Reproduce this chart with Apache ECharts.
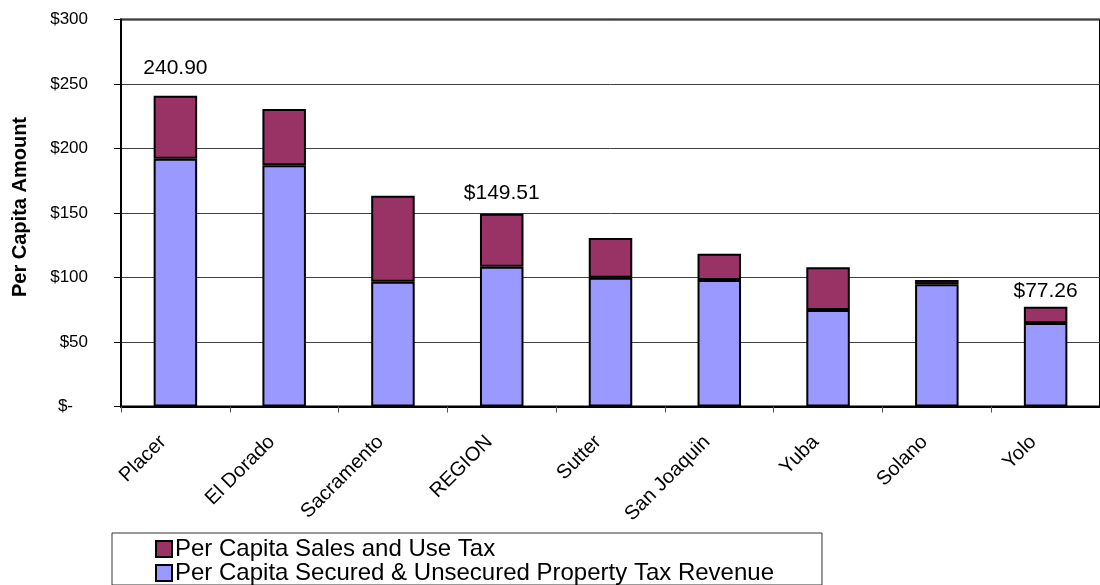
<!DOCTYPE html>
<html>
<head>
<meta charset="utf-8">
<script src="https://cdn.jsdelivr.net/npm/echarts@6/dist/echarts.min.js"></script>
<style>html,body{margin:0;padding:0;background:#fff;}#c{width:1100px;height:585px;}</style>
</head>
<body>
<div id="c"></div>
<script>
const categories = ['Placer', 'El Dorado', 'Sacramento', 'REGION', 'Sutter', 'San Joaquin', 'Yuba', 'Solano', 'Yolo'];
const propertyTax = [192.0, 187.0, 96.7, 108.4, 99.9, 98.1, 74.8, 94.7, 64.7];
const salesTax = [48.9, 43.6, 66.7, 41.11, 30.7, 20.4, 33.1, 3.4, 12.56];
const totalLabels = ['240.90', '', '', '$149.51', '', '', '', '', '$77.26'];
const yTicks = [0, 50, 100, 150, 200, 250, 300];
const seriesNames = ['Per Capita Sales and Use Tax', 'Per Capita Secured & Unsecured Property Tax Revenue'];

const FONT = "'Liberation Sans', Arial, sans-serif";
const labelGaps = [17, 0, 0, 10, 0, 0, 0, 0, 5];

const chart = echarts.init(document.getElementById('c'), null, {renderer: 'canvas'});
chart.setOption({
  backgroundColor: '#fff',
  animation: false,
  textStyle: {fontFamily: FONT, color: '#000'},
  grid: {
    left: 121, top: 19.5, width: 986, height: 387,
    show: true, borderColor: '#000', borderWidth: 2, backgroundColor: 'transparent'
  },
  legend: {
    type: 'plain',
    orient: 'vertical',
    left: 112, top: 533,
    height: 70,
    padding: [4, 48, 0, 43],
    borderColor: '#333', borderWidth: 1,
    itemGap: 0,
    itemWidth: 16, itemHeight: 16,
    icon: 'rect',
    selectedMode: false,
    data: seriesNames,
    itemStyle: {borderColor: '#000', borderWidth: 2},
    textStyle: {fontFamily: FONT, fontSize: 24, color: '#000', lineHeight: 22, padding: [0, 0, 0, -2]}
  },
  xAxis: {
    type: 'category',
    data: categories,
    axisLine: {lineStyle: {color: '#000', width: 2}},
    axisTick: {show: true, length: 6, lineStyle: {color: '#555', width: 1}},
    axisLabel: {rotate: 45, margin: 20, fontSize: 20, color: '#000', fontFamily: FONT, interval: 0,
      padding: [0, 17.5, 0, 0]}
  },
  yAxis: {
    type: 'value',
    min: 0, max: 300, interval: 50,
    name: 'Per Capita Amount',
    nameLocation: 'middle',
    nameGap: 91,
    nameRotate: 90,
    nameTextStyle: {fontSize: 20, fontWeight: 'bold', color: '#000', fontFamily: FONT, padding: [0, 0, 0, 12]},
    axisLine: {show: true, lineStyle: {color: '#000', width: 2}},
    axisTick: {show: true, length: 7, lineStyle: {color: '#000', width: 1}},
    splitLine: {show: true, lineStyle: {color: '#404040', width: 1}},
    axisLabel: {
      margin: 33, fontSize: 17, color: '#000', fontFamily: FONT,
      formatter: function (v) {
        if (yTicks.indexOf(v) < 0) return '';
        return v === 0 ? '{z|$-}' : '$' + v;
      },
      rich: {z: {fontSize: 17, color: '#000', fontFamily: FONT, padding: [0, 15, 0, 0]}}
    }
  },
  series: [
    {
      name: seriesNames[1],
      type: 'bar',
      stack: 'total',
      barWidth: '40%',
      itemStyle: {color: '#9999FF', borderColor: '#000', borderWidth: 2},
      data: propertyTax
    },
    {
      name: seriesNames[0],
      type: 'bar',
      stack: 'total',
      barWidth: '40%',
      itemStyle: {color: '#993366', borderColor: '#000', borderWidth: 2},
      data: salesTax.map(function (v, i) {
        const item = {value: v};
        if (totalLabels[i]) {
          item.label = {
            show: true, position: 'top', distance: labelGaps[i],
            formatter: totalLabels[i], fontSize: 21, color: '#000', fontFamily: FONT
          };
        }
        return item;
      })
    }
  ]
});
</script>
</body>
</html>
